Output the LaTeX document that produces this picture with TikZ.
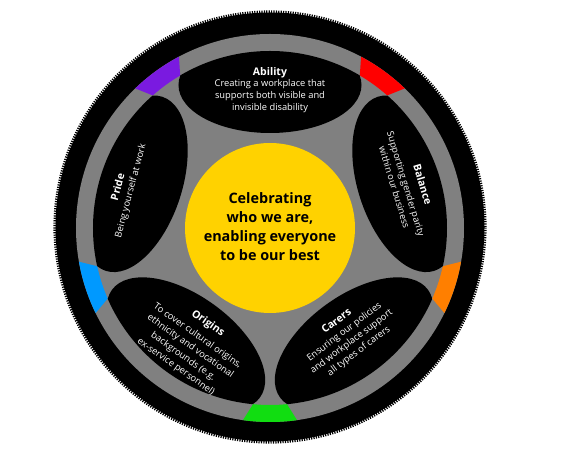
\documentclass[tikz,border=0pt]{standalone}
\usepackage{fontspec}
\setmainfont{Open Sans}
\definecolor{hubgrey}{HTML}{808080}
\definecolor{ringred}{HTML}{FF0000}
\definecolor{ringpurple}{HTML}{7A1AE0}
\definecolor{ringblue}{HTML}{0099FF}
\definecolor{ringgreen}{HTML}{11DD11}
\definecolor{ringorange}{HTML}{FF7F00}
\definecolor{centeryellow}{HTML}{FFD200}
\begin{document}
\begin{tikzpicture}[x=1pt,y=1pt,
  petaltitle/.style={font=\bfseries\fontsize{10.5}{12}\selectfont, text=white, inner sep=0pt},
  petalbody/.style={font=\fontsize{9.3}{12}\selectfont, text=white, align=center, inner sep=0pt},
  petal/.style={fill=black}]
\useasboundingbox (-270,-226) rectangle (300,228);
\fill[white] (-270,-226) rectangle (300,228);
% tyre
\fill[black] (0,1) circle (214.5);
\draw[black, line width=2.6pt, dash pattern=on 1.2pt off 1.2pt] (0,1) circle (215.3);
% grey hub and ring
\fill[hubgrey] (0,0) circle (194);
% coloured ring segments
\foreach \g/\c in {54/ringred,126/ringpurple,198/ringblue,270/ringgreen,342/ringorange}{
  \fill[\c] ({\g-5.5}:177) arc[start angle={\g-5.5}, end angle={\g+5.5}, radius=177]
     -- ({\g+8}:194) arc[start angle={\g+8}, end angle={\g-8}, radius=194] -- cycle;
}
% petals
\begin{scope}
\clip (0,0) circle (177);
\foreach \p in {90,18,306,234,162}{
  \fill[petal, shift={(\p:143)}, rotate=\p-90] (0,0) ellipse (91.5 and 48);
}
\end{scope}
% centre
\node[circle, fill=centeryellow, minimum size=170pt, inner sep=0pt] (hub) at (0,0) {};
\node[align=center, font=\bfseries\fontsize{14.4}{19}\selectfont] (hubtext) at (0,1)
  {Celebrating\\who we are,\\enabling everyone\\to be our best};
% Ability
\node[petaltitle] (abilityt) at (90:155) {Ability};
\node[petalbody] (abilityb) at (90:132) {Creating a workplace that\\supports both visible and\\invisible disability};
% Balance
\node[petaltitle, rotate=-73] (balancet) at (16:159) {Balance};
\node[petalbody, rotate=-73] (balanceb) at (18:137) {Supporting gender parity\\within our business};
% Pride
\node[petaltitle, rotate=75] (pridet) at (165:158) {Pride};
\node[petalbody, rotate=75] (prideb) at (165:144) {Being yourself at work};
% Origins
\node[petaltitle, rotate=-35] (originst) at (237:114) {Origins};
\node[petalbody, font=\fontsize{9.3}{12.6}\selectfont, rotate=-35] (originsb) at (236:149) {To cover cultural origins,\\ethnicity and vocational\\backgrounds (e.g.\\ex-service personnel)};
% Carers
\node[petaltitle, rotate=37] (carerst) at (305.5:114) {Carers};
\node[petalbody, rotate=37] (carersb) at (305.7:140) {Ensuring our policies\\and workplace support\\all types of carers};
\end{tikzpicture}
\end{document}
